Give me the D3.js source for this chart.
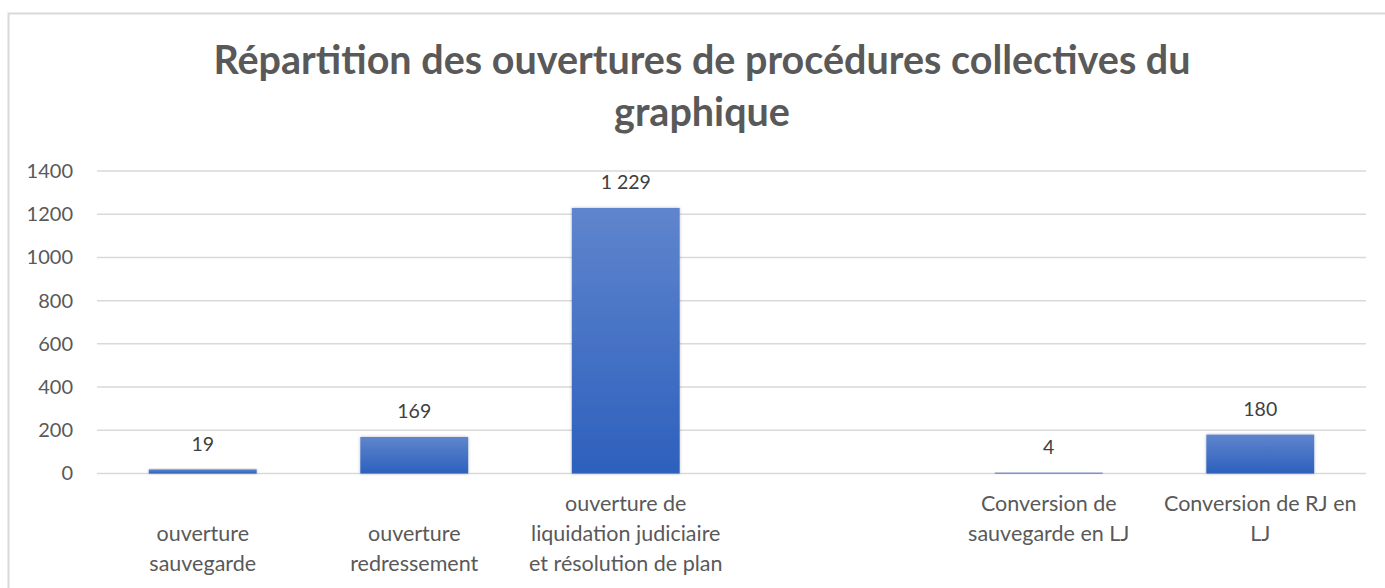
<!DOCTYPE html>
<html>
<head>
<meta charset="utf-8">
<script src="https://cdn.jsdelivr.net/npm/d3@7"></script>
<style>
  body { margin: 0; background: #fff; }
  svg { display: block; }
</style>
</head>
<body>
<svg id="chart"></svg>
<script>
// data
const categories = [
  "\nouverture\nsauvegarde",
  "\nouverture\nredressement",
  "ouverture de\nliquidation judiciaire\net résolution de plan",
  "",
  "Conversion de\nsauvegarde en LJ",
  "Conversion de RJ en\nLJ"
];
const values = [19, 169, 1229, null, 4, 180];
const yTicks = [0, 200, 400, 600, 800, 1000, 1200, 1400];
const titleLines = [
  "Répartition des ouvertures de procédures collectives du",
  "graphique"
];

const width = 1385;
const height = 588;
const margin = { top: 171, right: 19, bottom: 114, left: 97 };
const font = "Lato, 'Open Sans', sans-serif";

const svg = d3.select("#chart")
  .attr("width", width)
  .attr("height", height);

// chart border
svg.append("rect")
  .attr("x", 8.5)
  .attr("y", 13.5)
  .attr("width", width + 20)
  .attr("height", height + 20)
  .attr("fill", "#fff")
  .attr("stroke", "#d9d9d9")
  .attr("stroke-width", 2);

// gradient + shadow for bars
const defs = svg.append("defs");
const grad = defs.append("linearGradient")
  .attr("id", "barGrad")
  .attr("x1", 0).attr("y1", 0)
  .attr("x2", 0).attr("y2", 1);
grad.append("stop").attr("offset", "0%").attr("stop-color", "#5f85cd");
grad.append("stop").attr("offset", "100%").attr("stop-color", "#2d60bd");

const shadow = defs.append("filter")
  .attr("id", "barShadow")
  .attr("x", "-20%").attr("y", "-20%")
  .attr("width", "140%").attr("height", "140%");
shadow.append("feDropShadow")
  .attr("dx", 0).attr("dy", 0)
  .attr("stdDeviation", 1.6)
  .attr("flood-color", "#000")
  .attr("flood-opacity", 0.28);

// scales
var x = d3.scaleBand()
  .domain(categories)
  .range([margin.left, width - margin.right])
  .paddingInner(0.49)
  .paddingOuter(0.245);

var y = d3.scaleLinear()
  .domain([0, 1400])
  .range([height - margin.bottom - 0.5, margin.top]);

// title
const title = svg.append("text")
  .attr("text-anchor", "middle")
  .attr("fill", "#595959")
  .style("font-family", font)
  .style("font-weight", "bold")
  .style("font-size", "39.5px");
title.selectAll("tspan")
  .data(titleLines)
  .enter()
  .append("tspan")
  .attr("x", 702)
  .attr("y", (d, i) => 74 + i * 52)
  .text((d) => d);

// gridlines
const grid = svg.append("g").attr("class", "grid");
grid.selectAll("line")
  .data(yTicks)
  .enter()
  .append("line")
  .attr("x1", margin.left)
  .attr("x2", width - margin.right)
  .attr("y1", (d) => y(d))
  .attr("y2", (d) => y(d))
  .attr("stroke", "#d9d9d9")
  .attr("stroke-width", 1.5);

// y axis labels
const yAxis = d3.axisLeft(y)
  .tickValues(yTicks)
  .tickFormat(d3.format("d"))
  .tickSize(0)
  .tickPadding(24);
const yG = svg.append("g")
  .attr("transform", `translate(${margin.left},0)`)
  .call(yAxis);
yG.select(".domain").remove();
yG.selectAll("text")
  .attr("fill", "#595959")
  .style("font-family", font)
  .style("font-size", "20px");

// bars
const data = categories.map((c, i) => ({ cat: c, value: values[i] }))
  .filter((d) => d.value != null);

svg.append("g")
  .attr("class", "bars")
  .selectAll("rect")
  .data(data)
  .enter()
  .append("rect")
  .attr("x", (d) => x(d.cat))
  .attr("width", x.bandwidth())
  .attr("y", (d) => y(d.value))
  .attr("height", (d) => y(0) - y(d.value))
  .attr("fill", "url(#barGrad)")
  .attr("filter", "url(#barShadow)");

// data labels
const fr = d3.formatLocale({
  decimal: ",",
  thousands: " ",
  grouping: [3],
  currency: ["", " €"]
});
const fmt = fr.format(",d");

svg.append("g")
  .attr("class", "labels")
  .selectAll("text")
  .data(data)
  .enter()
  .append("text")
  .attr("x", (d) => x(d.cat) + x.bandwidth() / 2)
  .attr("y", (d) => y(d.value) - 18.5)
  .attr("text-anchor", "middle")
  .attr("fill", "#404040")
  .style("font-family", font)
  .style("font-size", "19.5px")
  .text((d) => fmt(d.value));

// category labels (multi-line)
const catG = svg.append("g").attr("class", "cats");
categories.forEach((c) => {
  const t = catG.append("text")
    .attr("text-anchor", "middle")
    .attr("fill", "#595959")
    .style("font-family", font)
    .style("font-size", "21.5px");
  c.split("\n").forEach((line, i) => {
    t.append("tspan")
      .attr("x", x(c) + x.bandwidth() / 2)
      .attr("y", 511 + i * 30)
      .text(line);
  });
});
</script>
</body>
</html>
